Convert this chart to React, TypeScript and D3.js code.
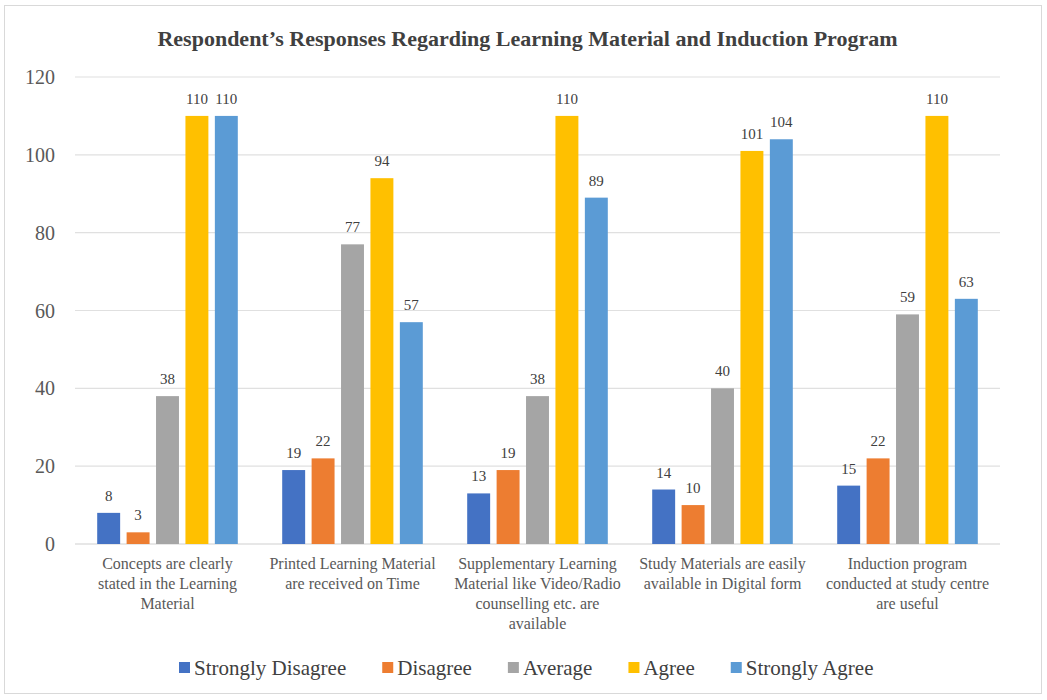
import { useRef, useEffect } from 'react';
import * as d3 from 'd3';

// Chart data
const categories = [
  ["Concepts are clearly", "stated in the Learning", "Material"],
  ["Printed Learning Material", "are received on Time"],
  ["Supplementary Learning", "Material like Video/Radio", "counselling etc. are", "available"],
  ["Study Materials are easily", "available in Digital form"],
  ["Induction program", "conducted at study centre", "are useful"]
];
const seriesNames = ["Strongly Disagree", "Disagree", "Average", "Agree", "Strongly Agree"];
const seriesColors = ["#4472C4", "#ED7D31", "#A5A5A5", "#FFC000", "#5B9BD5"];
const stronglyDisagree = [8, 19, 13, 14, 15];
const disagree = [3, 22, 19, 10, 22];
const average = [38, 77, 38, 40, 59];
const agree = [110, 94, 110, 101, 110];
const stronglyAgree = [110, 57, 89, 104, 63];
const yTicks = [0, 20, 40, 60, 80, 100, 120];

export default function App() {
  const ref = useRef<SVGSVGElement>(null);

  useEffect(() => {
    if (!ref.current) return;
    const width = 1047;
    const height = 700;
    const margin = { top: 77, right: 47, bottom: 156, left: 75 };
    const serif = "Liberation Serif, DejaVu Serif, serif";
    const values = [stronglyDisagree, disagree, average, agree, stronglyAgree];

    const svg = d3.select(ref.current)
      .attr('width', width)
      .attr('height', height)
      .attr('font-family', serif);
    svg.selectAll("*").remove();

    svg.append("rect")
      .attr("x", 4.5).attr("y", 5.5)
      .attr("width", width - 10).attr("height", height - 12)
      .attr("fill", "#fff")
      .attr("stroke", "#d9d9d9");

    const x0 = d3.scaleBand<number>()
      .domain(categories.map((_, i) => i))
      .range([margin.left, width - margin.right])
      .paddingInner(0.24)
      .paddingOuter(0.12);

    const x1 = d3.scaleBand<number>()
      .domain(seriesNames.map((_, i) => i))
      .range([0, x0.bandwidth()])
      .paddingInner(0.22);

    const y = d3.scaleLinear()
      .domain([0, 120])
      .range([height - margin.bottom, margin.top]);

    // gridlines
    svg.append("g")
      .selectAll("line")
      .data(yTicks)
      .join("line")
      .attr("x1", margin.left)
      .attr("x2", width - margin.right)
      .attr("y1", d => y(d))
      .attr("y2", d => y(d))
      .attr("stroke", d => d === 0 ? "#d0d0d0" : "#e0e0e0")
      .attr("stroke-width", 1.2);

    // y axis labels
    svg.append("g")
      .selectAll("text")
      .data(yTicks)
      .join("text")
      .attr("x", 55)
      .attr("y", d => y(d))
      .attr("dy", "0.35em")
      .attr("text-anchor", "end")
      .attr("font-size", 20)
      .attr("fill", "#595959")
      .text(d => d);

    // bars
    const groups = svg.append("g")
      .selectAll("g")
      .data(categories.map((_, i) => i))
      .join("g")
      .attr("transform", d => `translate(${x0(d)},0)`);

    groups.selectAll("rect")
      .data(ci => values.map((s, si) => ({ si, v: s[ci] })))
      .join("rect")
      .attr("x", d => x1(d.si)!)
      .attr("y", d => y(d.v))
      .attr("width", x1.bandwidth())
      .attr("height", d => y(0) - y(d.v))
      .attr("fill", d => seriesColors[d.si]);

    groups.selectAll("text")
      .data(ci => values.map((s, si) => ({ si, v: s[ci] })))
      .join("text")
      .attr("x", d => x1(d.si)! + x1.bandwidth() / 2)
      .attr("y", d => y(d.v) - 12)
      .attr("text-anchor", "middle")
      .attr("font-size", 15)
      .attr("fill", "#404040")
      .text(d => d.v);

    // category labels
    const catLabels = svg.append("g")
      .selectAll("text")
      .data(categories)
      .join("text")
      .attr("x", (_, i) => x0(i)! + x0.bandwidth() / 2)
      .attr("y", y(0) + 25)
      .attr("text-anchor", "middle")
      .attr("font-size", 16)
      .attr("fill", "#595959");
    catLabels.selectAll("tspan")
      .data(d => d)
      .join("tspan")
      .attr("x", function () { return (this.parentNode as SVGTextElement).getAttribute("x"); })
      .attr("dy", (_, i) => i === 0 ? 0 : 20)
      .text(d => d);

    // title
    svg.append("text")
      .attr("x", width / 2 + 4)
      .attr("y", 46)
      .attr("text-anchor", "middle")
      .attr("font-size", 22)
      .attr("font-weight", "bold")
      .attr("fill", "#404040")
      .text("Respondent’s Responses Regarding Learning Material and Induction Program");

    // legend
    const legend = svg.append("g").attr("transform", "translate(0,668)");
    let lx = 179;
    seriesNames.forEach((name, i) => {
      legend.append("rect")
        .attr("x", lx).attr("y", -6)
        .attr("width", 11).attr("height", 11)
        .attr("fill", seriesColors[i]);
      const t = legend.append("text")
        .attr("x", lx + 15)
        .attr("y", 0)
        .attr("dy", "0.35em")
        .attr("font-size", 21)
        .attr("fill", "#404040")
        .text(name);
      lx += 15 + (t.node() as SVGTextElement).getComputedTextLength() + 36;
    });
  }, []);

  return <svg ref={ref} style={{ display: 'block', position: 'absolute', left: 0, top: 0 }}></svg>;
}
